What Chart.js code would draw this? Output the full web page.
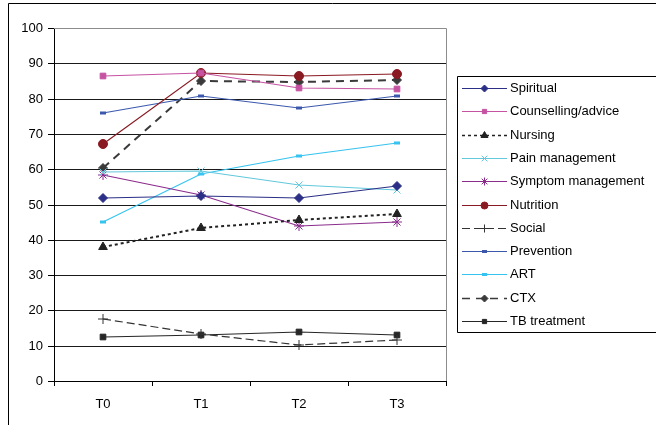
<!DOCTYPE html>
<html>
<head>
<meta charset="utf-8">
<script src="https://cdn.jsdelivr.net/npm/chart.js@4/dist/chart.umd.min.js"></script>
<style>
  html, body { margin: 0; padding: 0; background: #ffffff; }
  canvas { display: block; }
</style>
</head>
<body>
<canvas id="chart" width="656" height="425"></canvas>
<script>
// categories and series
var timePoints = ["T0", "T1", "T2", "T3"];
var yTicks = [0, 10, 20, 30, 40, 50, 60, 70, 80, 90, 100];

var spiritual    = [51.8, 52.4, 51.9, 55.2];
var counselling  = [86.4, 87.3, 82.9, 82.6];
var nursing      = [38.0, 43.4, 45.6, 47.4];
var painMgmt     = [59.3, 59.6, 55.5, 54.1];
var symptomMgmt  = [58.4, 52.6, 43.9, 45.1];
var nutrition    = [67.2, 87.3, 86.4, 87.1];
var social       = [17.6, 13.2, 10.3, 11.5];
var prevention   = [76.0, 80.7, 77.2, 80.7];
var art          = [45.0, 58.7, 63.7, 67.4];
var ctx_         = [60.2, 85.0, 84.6, 85.4];
var tbTreatment  = [12.4, 13.0, 14.0, 13.0];

var fontFamily = "'Liberation Sans', Arial, sans-serif";

function series(label, data, color, style, radius, dash, width) {
  return {
    label: label,
    data: data,
    borderColor: color,
    backgroundColor: color,
    pointBackgroundColor: color,
    pointBorderColor: color,
    pointStyle: style,
    pointRadius: radius,
    pointHoverRadius: radius,
    pointBorderWidth: 1,
    borderWidth: width || 1.2,
    borderDash: dash || [],
    tension: 0,
    fill: false
  };
}

var datasets = [
  series("Spiritual", spiritual, "#2b2f86", "rectRot", 4.5),
  series("Counselling/advice", counselling, "#c652a2", "rect", 4),
  series("Nursing", nursing, "#222222", "triangle", 5, [3, 3], 2),
  series("Pain management", painMgmt, "#62c8dc", "crossRot", 5),
  series("Symptom management", symptomMgmt, "#8a2c8c", "star", 5),
  series("Nutrition", nutrition, "#8a1a22", "circle", 4.5),
  series("Social", social, "#333333", "cross", 5, [8, 4], 1.2),
  series("Prevention", prevention, "#3b58ad", "line", 3, null, 1.2),
  series("ART", art, "#35c3f0", "line", 3, null, 1.2),
  series("CTX", ctx_, "#3a3a3a", "rectRot", 4.5, [8, 6], 2),
  series("TB treatment", tbTreatment, "#262626", "rect", 4)
];
// the small bar markers of Prevention and ART are a bit heavier than the lines
datasets[7].pointBorderWidth = 3;
datasets[8].pointBorderWidth = 3;

// frame, plot border and the boxed legend on the right
var framePlugin = {
  id: "frame",
  afterDraw: function (chart) {
    var c = chart.ctx;
    var a = chart.chartArea;
    c.save();
    // outer chart border (only left and top are inside the picture)
    c.strokeStyle = "#000000";
    c.lineWidth = 1;
    c.beginPath();
    c.moveTo(8.5, 425);
    c.lineTo(8.5, 3.5);
    c.lineTo(656, 3.5);
    c.stroke();
    // plot area top / right edge in gray
    c.strokeStyle = "#8c8c8c";
    c.beginPath();
    c.moveTo(a.left, Math.round(a.top) + 0.5);
    c.lineTo(Math.round(a.right) + 0.5, Math.round(a.top) + 0.5);
    c.lineTo(Math.round(a.right) + 0.5, a.bottom);
    c.stroke();

    // legend
    var boxLeft = 457.5, boxTop = 76.5, boxBottom = 332.5;
    c.strokeStyle = "#000000";
    c.lineWidth = 1;
    c.beginPath();
    c.moveTo(660, boxTop);
    c.lineTo(boxLeft, boxTop);
    c.lineTo(boxLeft, boxBottom);
    c.lineTo(660, boxBottom);
    c.stroke();

    var rowH = 23.3;
    c.font = "13px " + fontFamily;
    c.textBaseline = "middle";
    c.textAlign = "left";
    for (var i = 0; i < chart.data.datasets.length; i++) {
      var ds = chart.data.datasets[i];
      var y = Math.round(88 + i * rowH) + 0.5;
      c.strokeStyle = ds.borderColor;
      c.lineWidth = Math.min(ds.borderWidth, 1.5);
      c.setLineDash(ds.borderDash || []);
      c.beginPath();
      c.moveTo(462, y);
      c.lineTo(507, y);
      c.stroke();
      c.setLineDash([]);
      c.fillStyle = ds.pointBackgroundColor;
      c.strokeStyle = ds.pointBorderColor;
      c.lineWidth = ds.pointBorderWidth;
      Chart.helpers.drawPoint(c, {
        pointStyle: ds.pointStyle,
        rotation: 0,
        radius: Math.max(ds.pointRadius - 1, 2.5),
        borderWidth: ds.pointBorderWidth
      }, 484.5, y);
      c.fillStyle = "#000000";
      c.fillText(ds.label, 510, y);
    }
    c.restore();
  }
};

new Chart(document.getElementById("chart"), {
  type: "line",
  data: { labels: timePoints, datasets: datasets },
  options: {
    responsive: false,
    animation: false,
    events: [],
    layout: { padding: { left: 0, top: 28, right: 210, bottom: 0 } },
    plugins: {
      legend: { display: false },
      tooltip: { enabled: false }
    },
    scales: {
      x: {
        type: "category",
        offset: true,
        alignToPixels: true,
        grid: {
          offset: true,
          drawOnChartArea: false,
          drawTicks: true,
          tickLength: 5,
          color: "#000000"
        },
        border: { color: "#000000", width: 1 },
        ticks: {
          color: "#000000",
          padding: 11,
          font: { family: fontFamily, size: 13 }
        },
        afterFit: function (scale) { scale.height = 44; }
      },
      y: {
        min: 0,
        max: 100,
        alignToPixels: true,
        afterBuildTicks: function (scale) {
          scale.ticks = yTicks.map(function (v) { return { value: v }; });
        },
        grid: {
          color: function (c) { return c.tick && c.tick.value === 100 ? "#8c8c8c" : "#1a1a1a"; },
          lineWidth: 1,
          tickLength: 6,
          tickColor: "#000000"
        },
        border: { color: "#000000", width: 1 },
        ticks: {
          color: "#000000",
          padding: 5,
          font: { family: fontFamily, size: 13 }
        },
        afterFit: function (scale) { scale.width = 54; }
      }
    }
  },
  plugins: [framePlugin]
});
</script>
</body>
</html>
